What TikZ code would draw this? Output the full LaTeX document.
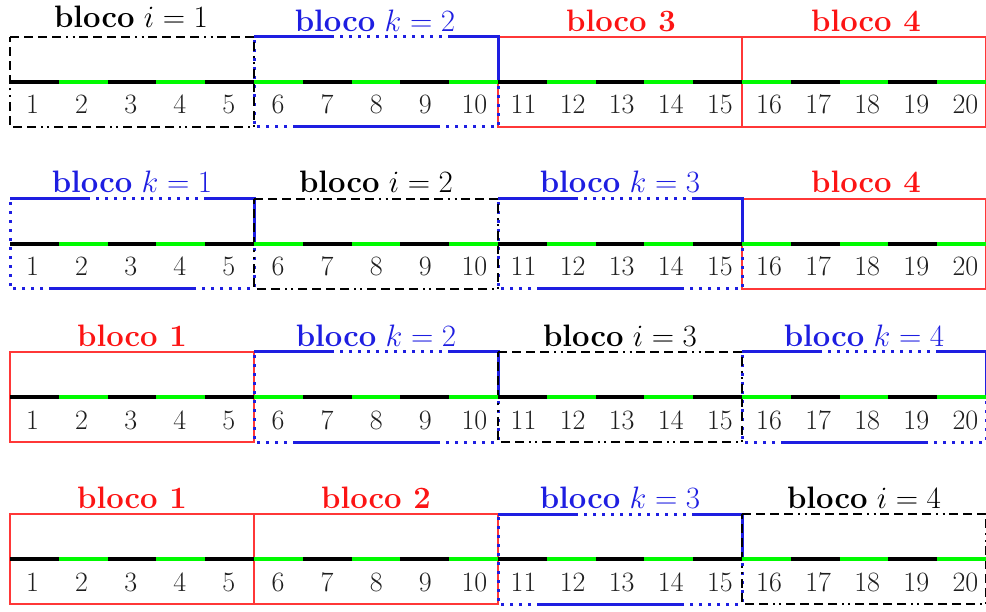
\RequirePackage{fix-cm}
\documentclass[tikz,border=0pt]{standalone}

\definecolor{plainred}{RGB}{255,55,55}
\definecolor{labred}{RGB}{252,20,20}
\definecolor{kblue}{RGB}{30,30,225}
\definecolor{segreen}{RGB}{0,250,0}
\definecolor{numgray}{RGB}{30,30,30}

\tikzset{
  plainbox/.style={draw=plainred, line width=2pt},
  ibox/.style={draw=black, line width=2.8pt,
    dash pattern=on 9pt off 5pt on 9pt off 5pt on 9pt off 5pt on 9pt off 5pt on 2pt off 4.5pt on 2pt off 4.5pt},
  kbox/.style={draw=kblue, line width=3pt,
    dash pattern=on 80pt off 6pt
      on 3pt off 6pt on 3pt off 6pt on 3pt off 6pt on 3pt off 6pt on 3pt off 6pt on 3pt off 6pt
      on 3pt off 6pt on 3pt off 6pt on 3pt off 6pt on 3pt off 6pt on 3pt off 6pt on 3pt off 6pt
      on 93pt off 6pt
      on 3pt off 6pt on 3pt off 6pt on 3pt off 6pt on 3pt off 6pt on 3pt off 6pt on 3pt off 6pt
      on 3pt off 6pt on 3pt off 6pt on 3pt off 6pt on 3pt off 6pt on 3pt off 6pt
      on 147pt off 6pt
      on 3pt off 6pt on 3pt off 6pt on 3pt off 6pt on 3pt off 6pt on 3pt off 6pt on 3pt off 6pt
      on 3pt off 6pt on 3pt off 6pt on 3pt off 6pt on 3pt off 6pt on 3pt off 6pt on 3pt off 6pt
      on 3pt off 6pt on 3pt off 6pt},
  seg/.style={line width=4pt},
  numtxt/.style={font=\fontsize{28}{30}\selectfont, text=numgray, anchor=base, inner sep=0pt},
  labtxt/.style={font=\fontsize{31}{34}\selectfont, anchor=base, inner sep=0pt},
  ilab/.style={labtxt, text=black},
  klab/.style={labtxt, text=kblue},
  plab/.style={labtxt, text=labred, font=\fontsize{31}{34}\selectfont\bfseries},
}

% one block of five cells: #1 top edge, #2 column (0..3), #3 border style
\newcommand\blockframe[3]{%
  \draw[#3] ({10+244*#2},#1) -- ({10+244*(#2+1)},#1) -- ({10+244*(#2+1)},{#1+90})
    -- ({10+244*#2},{#1+90}) -- cycle;}

\begin{document}
\begin{tikzpicture}[x=1pt,y=-1pt]
\useasboundingbox (0,0) rectangle (986,612);

% ---- block frames ----
% row 1
\blockframe{37}{2}{plainbox}
\blockframe{37}{3}{plainbox}
\blockframe{37}{1}{kbox}
\blockframe{37}{0}{ibox}
% row 2
\blockframe{199}{3}{plainbox}
\blockframe{199}{0}{kbox}
\blockframe{199}{2}{kbox}
\blockframe{199}{1}{ibox}
% row 3
\blockframe{352}{0}{plainbox}
\blockframe{352}{1}{kbox}
\blockframe{352}{3}{kbox}
\blockframe{352}{2}{ibox}
% row 4
\blockframe{514}{0}{plainbox}
\blockframe{514}{1}{plainbox}
\blockframe{514}{2}{kbox}
\blockframe{514}{3}{ibox}

% ---- cell lines and indices ----
\foreach \r/\m in {1/82, 2/244, 3/397, 4/559}{
  \foreach \j in {1,3,...,19}
    \draw[seg, black] ({10+(\j-1)*48.8},\m) -- ({10+\j*48.8},\m);
  \foreach \j in {2,4,...,20}
    \draw[seg, segreen] ({10+(\j-1)*48.8},\m) -- ({10+\j*48.8},\m);
  \foreach \j in {1,...,20}
    \node[numtxt] (n\r-\j) at ({32.5+(\j-1)*49.1},{\m+32}) {\j};
}

% ---- block labels ----
\node[ilab] (lab1-1) at (131,27.5) {\textbf{bloco} $i=1$};
\node[klab] (lab1-2) at (375,31.5) {\textbf{bloco} $k=2$};
\node[plab] (lab1-3) at (621,31.5) {bloco 3};
\node[plab] (lab1-4) at (866,31.5) {bloco 4};

\node[klab] (lab2-1) at (132,193) {\textbf{bloco} $k=1$};
\node[ilab] (lab2-2) at (376,193) {\textbf{bloco} $i=2$};
\node[klab] (lab2-3) at (620,193) {\textbf{bloco} $k=3$};
\node[plab] (lab2-4) at (866,193) {bloco 4};

\node[plab] (lab3-1) at (132,346.5) {bloco 1};
\node[klab] (lab3-2) at (376,346.5) {\textbf{bloco} $k=2$};
\node[ilab] (lab3-3) at (620,346.5) {\textbf{bloco} $i=3$};
\node[klab] (lab3-4) at (864,346.5) {\textbf{bloco} $k=4$};

\node[plab] (lab4-1) at (132,508) {bloco 1};
\node[plab] (lab4-2) at (376,508) {bloco 2};
\node[klab] (lab4-3) at (620,508) {\textbf{bloco} $k=3$};
\node[ilab] (lab4-4) at (864,508) {\textbf{bloco} $i=4$};
\end{tikzpicture}
\end{document}
